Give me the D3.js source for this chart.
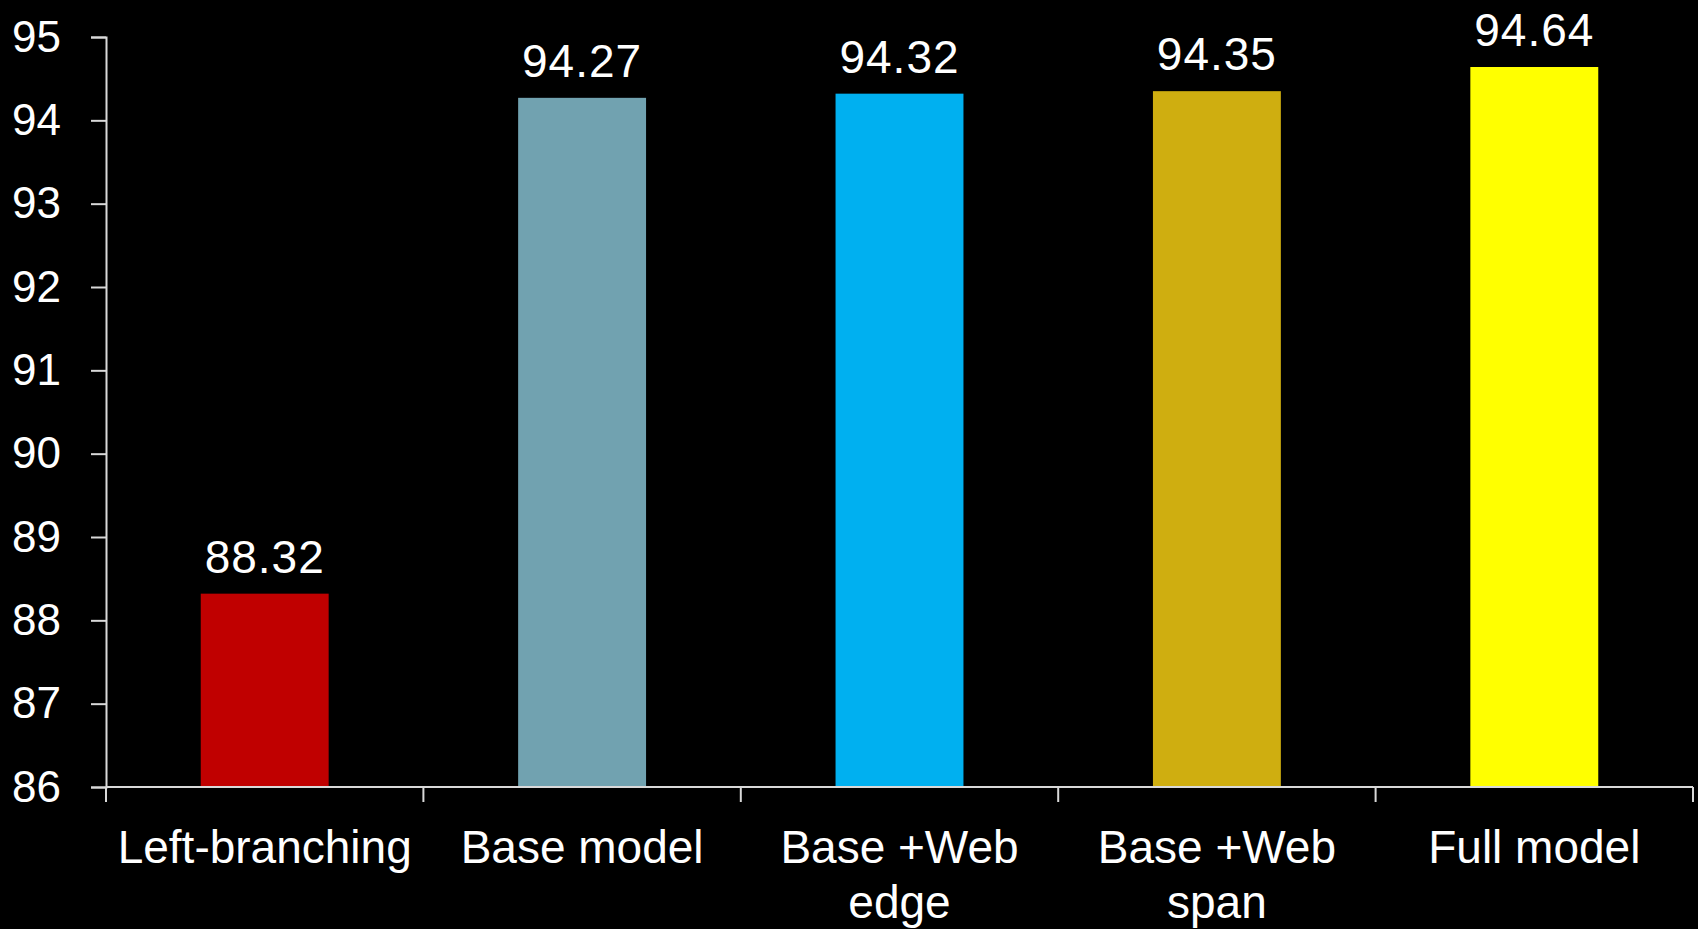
<!DOCTYPE html>
<html>
<head>
<meta charset="utf-8">
<script src="https://cdn.jsdelivr.net/npm/d3@7"></script>
<style>
  html, body { margin: 0; padding: 0; background: #000; }
  svg { display: block; }
  text { font-family: "Liberation Sans", Arial, sans-serif; fill: #fff; }
</style>
</head>
<body>
<svg id="chart" width="1698" height="929"></svg>
<script>
const categories = ["Left-branching", "Base model", "Base +Web\nedge", "Base +Web\nspan", "Full model"];
const values = [88.32, 94.27, 94.32, 94.35, 94.64];
const colors = ["#C00000", "#71A2B0", "#00B0F0", "#CFAE10", "#FFFF00"];
const yTicks = [86, 87, 88, 89, 90, 91, 92, 93, 94, 95];

const svg = d3.select("#chart");
const mLeft = 106, mRight = 1693, mTop = 37, mBottom = 787;

const x = d3.scaleBand().domain(categories).range([mLeft, mRight]).padding(0);
const y = d3.scaleLinear().domain([86, 95]).range([mBottom, mTop]);
const barW = x.bandwidth() * 0.403;
const axisColor = "#d9d9d9";

// Bars
svg.append("g").selectAll("rect").data(values).join("rect")
  .attr("x", (d, i) => x(categories[i]) + x.bandwidth() / 2 - barW / 2)
  .attr("y", d => y(d))
  .attr("width", barW)
  .attr("height", d => y(86) - y(d))
  .attr("fill", (d, i) => colors[i]);

// Value labels
svg.append("g").selectAll("text").data(values).join("text")
  .attr("x", (d, i) => x(categories[i]) + x.bandwidth() / 2)
  .attr("y", d => y(d) - 21)
  .attr("text-anchor", "middle")
  .style("font-size", "46px")
  .style("letter-spacing", "1px")
  .text(d => d.toFixed(2));

// Y axis
const yAxis = svg.append("g")
  .attr("transform", `translate(${mLeft},0)`)
  .call(d3.axisLeft(y).tickValues(yTicks).tickSize(15).tickPadding(30).tickFormat(d3.format("d")));
yAxis.selectAll("path, line").attr("stroke", axisColor).attr("stroke-width", 2);
yAxis.selectAll("text").style("font-size", "44px").attr("fill", "#fff")
  .style("font-family", "'Liberation Sans', Arial, sans-serif");

// X axis line and ticks at band boundaries
const boundaries = categories.map(c => x(c)).concat([mRight]);
const xg = svg.append("g");
xg.append("line")
  .attr("x1", mLeft).attr("x2", mRight)
  .attr("y1", mBottom).attr("y2", mBottom)
  .attr("stroke", axisColor).attr("stroke-width", 2);
xg.selectAll("line.tick").data(boundaries).join("line")
  .attr("class", "tick")
  .attr("x1", d => d).attr("x2", d => d)
  .attr("y1", mBottom).attr("y2", mBottom + 15)
  .attr("stroke", axisColor).attr("stroke-width", 2);

// Category labels
const lbl = xg.selectAll("text").data(categories).join("text")
  .attr("text-anchor", "middle")
  .attr("transform", d => `translate(${x(d) + x.bandwidth() / 2},${mBottom + 76})`)
  .style("font-size", "46px");
lbl.selectAll("tspan").data(d => d.split("\n")).join("tspan")
  .attr("x", 0)
  .attr("y", (d, i) => i * 55)
  .text(d => d);
</script>
</body>
</html>
